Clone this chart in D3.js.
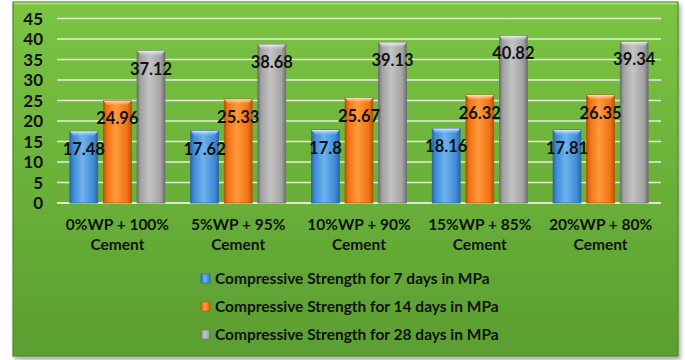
<!DOCTYPE html>
<html>
<head>
<meta charset="utf-8">
<script src="https://cdn.jsdelivr.net/npm/d3@7"></script>
<style>
  html, body { margin: 0; padding: 0; background: #ffffff; }
  svg { display: block; }
  text { font-family: Lato, "Open Sans", sans-serif; font-weight: bold; fill: #111111; }
</style>
</head>
<body>
<svg id="chart" width="685" height="360"></svg>
<script>
// Mix ratios (waste powder vs cement)
const categories = ["0%WP + 100% Cement", "5%WP + 95% Cement", "10%WP + 90% Cement", "15%WP + 85% Cement", "20%WP + 80% Cement"];
const categoryLines = [["0%WP + 100%", "Cement"], ["5%WP + 95%", "Cement"], ["10%WP + 90%", "Cement"], ["15%WP + 85%", "Cement"], ["20%WP + 80%", "Cement"]];
const seriesNames = [
  "Compressive Strength for 7 days in MPa",
  "Compressive Strength for 14 days in MPa",
  "Compressive Strength for 28 days in MPa"
];
const strength7 = [17.48, 17.62, 17.8, 18.16, 17.81];
const strength14 = [24.96, 25.33, 25.67, 26.32, 26.35];
const strength28 = [37.12, 38.68, 39.13, 40.82, 39.34];
const yTicks = [0, 5, 10, 15, 20, 25, 30, 35, 40, 45];

const seriesValues = [strength7, strength14, strength28];
const palette = [
  { light: "#6fb2ef", mid: "#3f8bd6", dark: "#2a66a8" },
  { light: "#ff9a3c", mid: "#f07312", dark: "#b9520a" },
  { light: "#c4c4c4", mid: "#a2a2a2", dark: "#6f6f6f" }
];

const svg = d3.select("#chart");
const defs = svg.append("defs");

// Chart area background
const bg = defs.append("linearGradient").attr("id", "bgGrad").attr("x1", 0).attr("y1", 0).attr("x2", 0).attr("y2", 1);
bg.append("stop").attr("offset", "0%").attr("stop-color", "#7cc443");
bg.append("stop").attr("offset", "45%").attr("stop-color", "#6cb33a");
bg.append("stop").attr("offset", "100%").attr("stop-color", "#5b9e31");

const shadow = defs.append("filter").attr("id", "shadow").attr("x", "-5%").attr("y", "-5%").attr("width", "110%").attr("height", "115%");
shadow.append("feDropShadow").attr("dx", 2).attr("dy", 3).attr("stdDeviation", 2).attr("flood-color", "#000").attr("flood-opacity", 0.35);

palette.forEach((p, i) => {
  const g = defs.append("linearGradient").attr("id", "barGrad" + i).attr("x1", 0).attr("y1", 0).attr("x2", 1).attr("y2", 0);
  g.append("stop").attr("offset", "0%").attr("stop-color", p.dark);
  g.append("stop").attr("offset", "12%").attr("stop-color", p.mid);
  g.append("stop").attr("offset", "45%").attr("stop-color", p.light);
  g.append("stop").attr("offset", "85%").attr("stop-color", p.mid);
  g.append("stop").attr("offset", "100%").attr("stop-color", p.dark);
  const t = defs.append("linearGradient").attr("id", "capGrad" + i).attr("x1", 0).attr("y1", 0).attr("x2", 0).attr("y2", 1);
  t.append("stop").attr("offset", "0%").attr("stop-color", "#ffffff").attr("stop-opacity", 0.85);
  t.append("stop").attr("offset", "100%").attr("stop-color", p.light).attr("stop-opacity", 0.2);
});

svg.append("rect")
  .attr("x", 13).attr("y", 2).attr("width", 665).attr("height", 354)
  .attr("fill", "url(#bgGrad)")
  .attr("stroke", "#4f8a2a").attr("stroke-width", 1.2)
  .attr("filter", "url(#shadow)");
svg.append("line")
  .attr("x1", 14).attr("x2", 677).attr("y1", 3.5).attr("y2", 3.5)
  .attr("stroke", "#a6dc7a").attr("stroke-width", 2);

// Scales
const plotLeft = 57, plotRight = 661, plotTop = 18.5, plotBottom = 203;
const y = d3.scaleLinear().domain([0, 45]).range([plotBottom, plotTop]);
const x0 = d3.scaleBand().domain(categories).range([plotLeft, plotRight]).paddingInner(0.213).paddingOuter(0.1065);
const x1 = d3.scaleBand().domain(d3.range(3)).range([0, x0.bandwidth()]).paddingInner(0.17);

// Gridlines
svg.append("g")
  .selectAll("line")
  .data(yTicks)
  .join("line")
  .attr("x1", plotLeft).attr("x2", plotRight)
  .attr("y1", d => y(d)).attr("y2", d => y(d))
  .attr("stroke", d => d === 0 ? "#dfe9d2" : "#e4efd8")
  .attr("stroke-width", d => d === 0 ? 2.2 : 1.4);

// Y axis labels
const yAxis = d3.axisLeft(y).tickValues(yTicks).tickSize(0).tickPadding(0);
const yg = svg.append("g").attr("transform", "translate(43,0)").call(yAxis);
yg.select(".domain").remove();
yg.selectAll("text").attr("font-size", 17).attr("font-family", "Lato, sans-serif").attr("font-weight", "bold").attr("fill", "#111111").attr("dy", "0.35em");

// Bars
const groups = svg.append("g")
  .selectAll("g")
  .data(categories)
  .join("g")
  .attr("transform", d => `translate(${x0(d)},0)`);

groups.each(function (cat, ci) {
  const g = d3.select(this);
  const data = seriesValues.map((vals, si) => ({ si, value: vals[ci] }));
  const bw = x1.bandwidth();
  g.selectAll("rect.bar")
    .data(data)
    .join("rect")
    .attr("class", "bar")
    .attr("x", d => x1(d.si))
    .attr("y", d => y(d.value))
    .attr("width", bw)
    .attr("height", d => y(0) - y(d.value))
    .attr("fill", d => `url(#barGrad${d.si})`)
    .attr("stroke", d => palette[d.si].dark)
    .attr("stroke-width", 0.8);
  // bevelled top cap
  g.selectAll("path.cap")
    .data(data)
    .join("path")
    .attr("class", "cap")
    .attr("d", d => {
      const x = x1(d.si), t = y(d.value);
      return `M${x},${t} L${x + bw},${t} L${x + bw - 4},${t + 5} L${x + 4},${t + 5} Z`;
    })
    .attr("fill", d => `url(#capGrad${d.si})`);
  // value labels
  g.selectAll("text.val")
    .data(data)
    .join("text")
    .attr("class", "val")
    .attr("x", d => x1(d.si) + bw / 2)
    .attr("y", d => y(d.value) + 18)
    .attr("dy", "0.35em")
    .attr("text-anchor", "middle")
    .attr("font-size", 16.5)
    .text(d => d.value);
});

// Category labels
const xl = svg.append("g")
  .selectAll("text")
  .data(categories)
  .join("text")
  .attr("y", 225)
  .attr("text-anchor", "middle")
  .attr("font-size", 15.5);
xl.each(function (d, i) {
  const t = d3.select(this);
  categoryLines[i].forEach((line, li) => {
    t.append("tspan").attr("x", x0(d) + x0.bandwidth() / 2).attr("dy", li === 0 ? "0.35em" : 20).text(line);
  });
});

// Legend
const legend = svg.append("g").attr("transform", "translate(200,279)");
const items = legend.selectAll("g")
  .data(seriesNames)
  .join("g")
  .attr("transform", (d, i) => `translate(0,${i * 28})`);
items.append("rect")
  .attr("x", 1).attr("y", -5).attr("width", 9).attr("height", 9)
  .attr("fill", (d, i) => `url(#barGrad${i})`)
  .attr("stroke", (d, i) => palette[i].dark).attr("stroke-width", 0.6);
items.append("text")
  .attr("x", 15).attr("y", 0).attr("dy", "0.35em")
  .attr("font-size", 15.5)
  .text(d => d);
</script>
</body>
</html>
